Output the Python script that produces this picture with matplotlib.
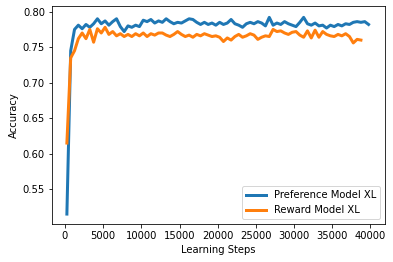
import numpy as np
import matplotlib
matplotlib.use("Agg")
import matplotlib.pyplot as plt

# evaluation every 500 steps
pref_acc = [0.515, 0.745, 0.775, 0.781, 0.776, 0.782, 0.778, 0.783, 0.790, 0.783,
            0.787, 0.781, 0.786, 0.790, 0.779, 0.772, 0.780, 0.778, 0.781, 0.779,
            0.788, 0.786, 0.789, 0.784, 0.787, 0.785, 0.790, 0.786, 0.783, 0.785,
            0.784, 0.787, 0.790, 0.789, 0.785, 0.782, 0.785, 0.782, 0.784, 0.781,
            0.785, 0.782, 0.784, 0.789, 0.783, 0.781, 0.778, 0.783, 0.785, 0.783,
            0.786, 0.784, 0.780, 0.792, 0.781, 0.784, 0.782, 0.786, 0.783, 0.781,
            0.779, 0.785, 0.792, 0.783, 0.781, 0.784, 0.780, 0.781, 0.777, 0.781,
            0.779, 0.782, 0.780, 0.783, 0.782, 0.785, 0.786, 0.785, 0.786, 0.782]

reward_acc = [0.615, 0.735, 0.745, 0.762, 0.770, 0.762, 0.775, 0.757, 0.776, 0.770,
              0.778, 0.768, 0.772, 0.766, 0.769, 0.765, 0.768, 0.765, 0.769, 0.766,
              0.770, 0.765, 0.769, 0.767, 0.770, 0.770, 0.767, 0.765, 0.768, 0.772,
              0.768, 0.765, 0.767, 0.764, 0.768, 0.766, 0.769, 0.767, 0.765, 0.766,
              0.764, 0.758, 0.763, 0.760, 0.765, 0.768, 0.764, 0.766, 0.769, 0.767,
              0.761, 0.764, 0.766, 0.765, 0.775, 0.772, 0.773, 0.770, 0.768, 0.771,
              0.772, 0.767, 0.764, 0.773, 0.763, 0.774, 0.764, 0.772, 0.768, 0.766,
              0.765, 0.768, 0.766, 0.769, 0.765, 0.756, 0.761, 0.760]

pref_steps = 250 + 500 * np.arange(len(pref_acc))
reward_steps = 250 + 500 * np.arange(len(reward_acc))

fig = plt.figure(figsize=(393 / 72, 262 / 72), dpi=72)
ax = fig.add_axes([0.1323, 0.145, 0.8473, 0.8321])

ax.plot(pref_steps, pref_acc, linewidth=3, label="Preference Model XL")
ax.plot(reward_steps, reward_acc, linewidth=3, label="Reward Model XL")

ax.set_xlim(-1700, 41900)
ax.set_ylim(0.501, 0.808)
ax.set_xlabel("Learning Steps")
ax.set_ylabel("Accuracy")
ax.legend(loc="lower right")

fig.savefig("out.png", dpi=72)
